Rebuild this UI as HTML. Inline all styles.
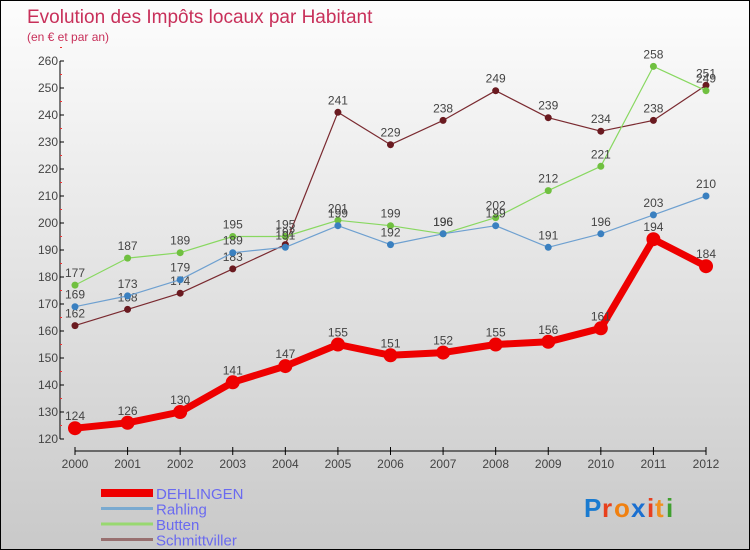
<!DOCTYPE html>
<html><head><meta charset="utf-8"><style>
body{margin:0}
#c{width:748px;height:548px;border:1px solid #000;background:linear-gradient(#fdfdfd,#c9c9c9);position:relative;font-family:"Liberation Sans",sans-serif}
</style></head><body>
<div id="c">
<svg id="s" width="748" height="548" style="position:absolute;left:0;top:0">
<text x="26" y="22" font-size="19" fill="#c8305a">Evolution des Impôts locaux par Habitant</text>
<text x="26" y="40" font-size="12" fill="#c8305a">(en € et par an)</text>
<g id="axes"></g><g id="series"></g><g id="legend"></g>
<g font-size="26" font-weight="bold">
<text x="583" y="516" fill="#1a7bd0">P</text><text x="601" y="516" fill="#e8401c">r</text><text x="613" y="516" fill="#f08010">o</text><text x="630" y="516" fill="#1a6fd0">x</text><text x="646" y="516" fill="#e84020">i</text><text x="654" y="516" fill="#f09020">t</text><text x="665" y="516" fill="#40a030">i</text>
</g>
</svg>
</div>
<script>
const years=[2000,2001,2002,2003,2004,2005,2006,2007,2008,2009,2010,2011,2012];
const yTicks=[120,130,140,150,160,170,180,190,200,210,220,230,240,250,260];
const dehlingen=[124,126,130,141,147,155,151,152,155,156,161,194,184];
const rahling=[169,173,179,189,191,199,192,196,199,191,196,203,210];
const butten=[177,187,189,195,195,201,199,196,202,212,221,258,249];
const schmittviller=[162,168,174,183,192,241,229,238,249,239,234,238,251];
const names=["DEHLINGEN","Rahling","Butten","Schmittviller"];
const NS="http://www.w3.org/2000/svg";
function X(i){return 74+i*(705-74)/12}
function Y(v){return 438-(v-120)*(378/140)}
function mk(t,a,p){const e=document.createElementNS(NS,t);for(const k in a)e.setAttribute(k,a[k]);p.appendChild(e);return e}
const ax=document.getElementById('axes');
let l=mk('line',{x1:59,y1:Y(260),x2:59,y2:Y(120),stroke:'#000'},ax);


yTicks.forEach(v=>{
 mk('line',{x1:59,x2:63,y1:Y(v),y2:Y(v),stroke:'#000'},ax);
 mk('line',{x1:59,x2:61,y1:Y(v+5),y2:Y(v+5),stroke:'#e33'},ax);
 const t=mk('text',{x:57,y:Y(v)+4,'text-anchor':'end','font-size':12,fill:'#444'},ax);t.textContent=v;
 
 
});
l=mk('line',{x1:74,y1:450,x2:705,y2:450,stroke:'#000'},ax);


years.forEach((y,i)=>{
 mk('line',{x1:X(i),x2:X(i),y1:446,y2:454,stroke:'#000'},ax);
 const t=mk('text',{x:X(i),y:467,'text-anchor':'middle','font-size':12,fill:'#444'},ax);t.textContent=y;
 
 
});
const sg=document.getElementById('series');
const defs=[[schmittviller,'#7a2a30','#6a1a20',1.2,3.5],[butten,'#88d860','#70c040',1.2,3.5],[rahling,'#6ea0d0','#3a80c0',1.2,3.5],[dehlingen,'#ee0000','#ee0000',7,7]];
const keys=['schmittviller','butten','rahling','dehlingen'];
defs.forEach((d,k)=>{
 const g=mk('g',{},sg);
 
 
 mk('polyline',{points:d[0].map((v,i)=>X(i)+','+Y(v)).join(' '),fill:'none',stroke:d[1],'stroke-width':d[3],'stroke-linejoin':'round'},g);
 d[0].forEach((v,i)=>{
  const c=mk('circle',{cx:X(i),cy:Y(v),r:d[4],fill:d[2]},g);
  
  
  const t=mk('text',{x:X(i),y:Y(v)-8,'text-anchor':'middle','font-size':12,fill:'#444'},g);t.textContent=v;
  
  
 });
});
const lg=document.getElementById('legend');
const lc=['#ee0000','#7aaad0','#98d870','#987070'],lw=[8,3,3,3];
names.forEach((n,i)=>{
 const y=492+i*15.5;
 const g=mk('g',{},lg);
 
 
 mk('line',{x1:100,x2:152,y1:y,y2:y,stroke:lc[i],'stroke-width':lw[i]},g);
 const t=mk('text',{x:155,y:y+6,'font-size':15,fill:'#6a6af0'},g);t.textContent=n;
});
</script>
</body></html>
